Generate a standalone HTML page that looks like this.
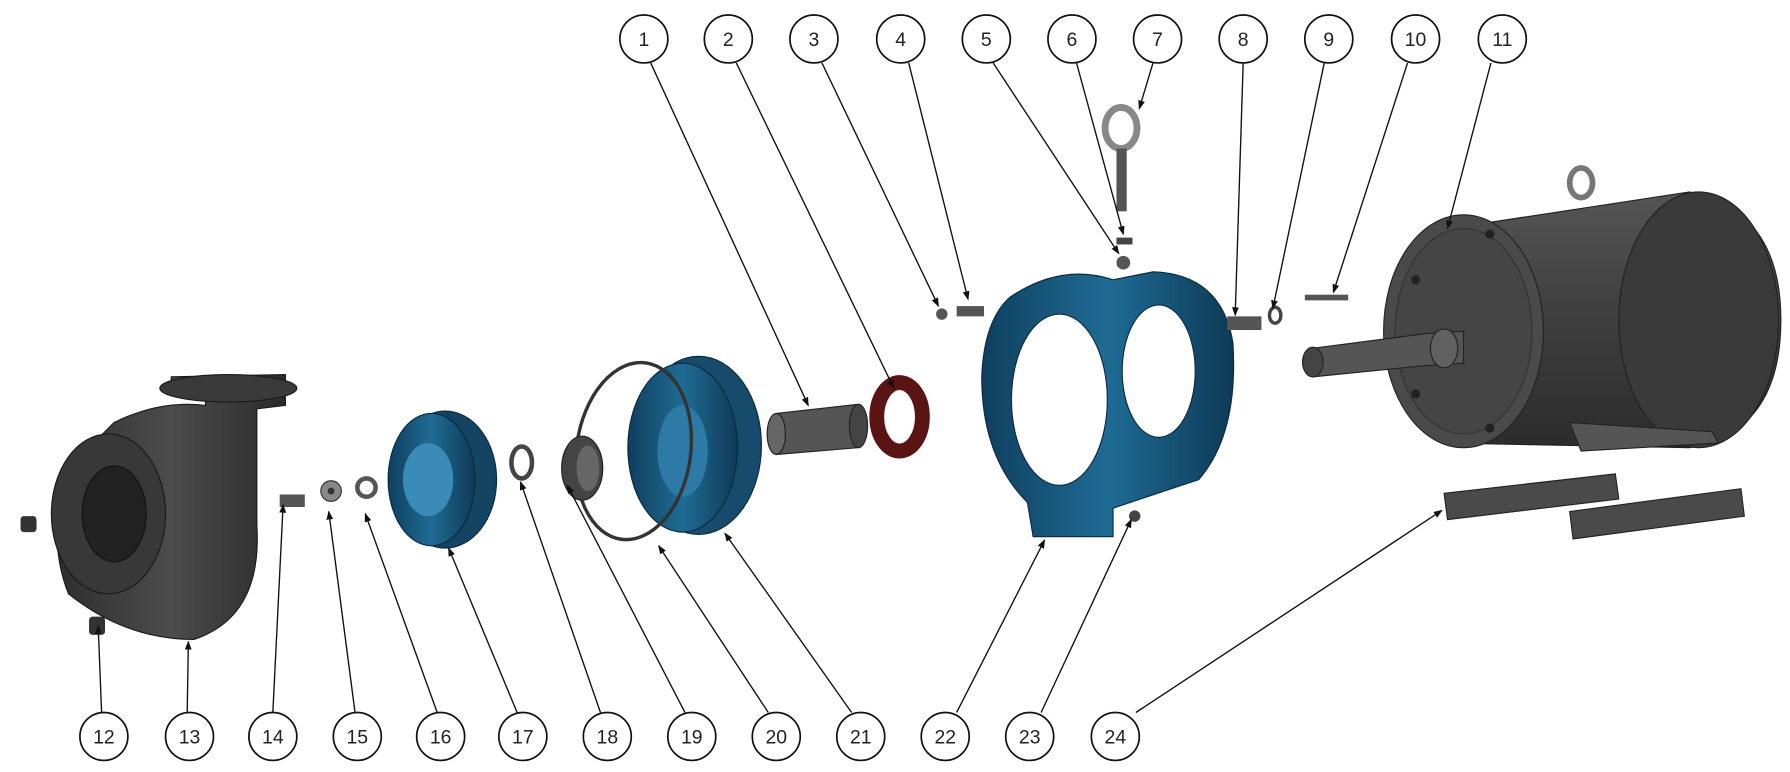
<!DOCTYPE html>
<html><head><meta charset="utf-8"><style>
html,body{margin:0;padding:0;background:#fff;}
svg{display:block;}
text{font-family:"Liberation Sans",sans-serif;font-size:17px;fill:#222;text-anchor:middle;}
</style></head><body>
<svg width="1790" height="772" viewBox="0 0 1568 676" xmlns="http://www.w3.org/2000/svg">
<defs>
<marker id="a" markerWidth="8" markerHeight="8" refX="7" refY="4" orient="auto" markerUnits="userSpaceOnUse"><path d="M0,1 L8,4 L0,7z" fill="#111"/></marker>
<linearGradient id="blue" x1="0" x2="1"><stop offset="0" stop-color="#0f3f5e"/><stop offset=".5" stop-color="#1f6b94"/><stop offset="1" stop-color="#0e3a56"/></linearGradient>
<linearGradient id="dk" x1="0" x2="1"><stop offset="0" stop-color="#2e2e2e"/><stop offset=".5" stop-color="#4c4c4c"/><stop offset="1" stop-color="#2a2a2a"/></linearGradient>
<linearGradient id="mot" x1="0" y1="0" x2="0" y2="1"><stop offset="0" stop-color="#555"/><stop offset=".5" stop-color="#3e3e3e"/><stop offset="1" stop-color="#2c2c2c"/></linearGradient>
</defs>

<!-- Motor -->
<path d="M1270,200 L1480,168 Q1560,185 1560,280 Q1560,378 1480,392 L1270,388 Z" fill="url(#mot)" stroke="#222"/>
<ellipse cx="1488" cy="280" rx="70" ry="112" fill="#3a3a3a" stroke="#222"/>
<ellipse cx="1282" cy="290" rx="70" ry="102" fill="#4a4a4a" stroke="#222"/>
<ellipse cx="1282" cy="290" rx="60" ry="90" fill="#454545" stroke="#333"/>
<circle cx="1240" cy="245" r="4" fill="#222"/><circle cx="1305" cy="205" r="4" fill="#222"/><circle cx="1240" cy="345" r="4" fill="#222"/><circle cx="1305" cy="375" r="4" fill="#222"/>
<ellipse cx="1385" cy="160" rx="10" ry="13" fill="none" stroke="#777" stroke-width="5"/>
<path d="M1375,370 L1500,378 L1505,388 L1385,395 Z" fill="#555" stroke="#222"/>
<path d="M1150,305 L1250,292 L1282,290 L1282,318 L1250,320 L1150,330 Z" fill="#555" stroke="#222"/>
<ellipse cx="1150" cy="317" rx="9" ry="13" fill="#444" stroke="#222"/>
<ellipse cx="1265" cy="305" rx="12" ry="17" fill="#606060" stroke="#222"/>
<!-- bases -->
<path d="M1265,432 L1415,415 L1418,437 L1268,455 Z" fill="#4a4a4a" stroke="#222"/>
<path d="M1375,448 L1525,428 L1528,452 L1378,472 Z" fill="#4a4a4a" stroke="#222"/>

<!-- Bracket -->
<path d="M885,260 Q930,230 975,245 L1010,238 Q1070,240 1080,300 Q1085,380 1050,420 L975,445 L975,470 L905,470 L900,440 Q860,400 860,330 Q862,280 885,260 Z" fill="url(#blue)" stroke="#0a2a40"/>
<ellipse cx="928" cy="350" rx="42" ry="75" fill="#fff" stroke="#0a2a40"/>
<ellipse cx="1015" cy="325" rx="32" ry="58" fill="#fff" stroke="#0a2a40"/>
<circle cx="984" cy="230" r="6" fill="#555"/><rect x="978" y="208" width="14" height="6" fill="#444"/>
<circle cx="994" cy="452" r="5" fill="#444"/>
<!-- eye bolt -->
<ellipse cx="982" cy="112" rx="14" ry="18" fill="none" stroke="#888" stroke-width="6"/>
<rect x="978" y="130" width="9" height="55" fill="#555"/>
<!-- small bolts -->
<circle cx="825" cy="275" r="5" fill="#555"/><rect x="838" y="268" width="24" height="9" fill="#555"/>
<rect x="1075" y="277" width="30" height="12" fill="#555"/><ellipse cx="1117" cy="276" rx="5" ry="7" fill="none" stroke="#444" stroke-width="3"/>
<rect x="1143" y="258" width="38" height="5" fill="#555"/>

<!-- sleeve and gasket -->
<path d="M680,362 L752,354 L752,392 L680,398 Z" fill="#555" stroke="#222"/>
<ellipse cx="680" cy="380" rx="8" ry="18" fill="#666" stroke="#222"/>
<ellipse cx="752" cy="373" rx="8" ry="19" fill="#444" stroke="#222"/>
<ellipse cx="788" cy="365" rx="20" ry="30" fill="none" stroke="#5a1414" stroke-width="13"/>

<!-- seal plate 21 -->
<ellipse cx="612" cy="390" rx="55" ry="78" fill="#164b6c" stroke="#0a2a40"/>
<ellipse cx="598" cy="392" rx="48" ry="74" fill="url(#blue)" stroke="#0a2a40"/>
<ellipse cx="598" cy="395" rx="22" ry="40" fill="#2c7aa5"/>
<!-- o-ring 20 -->
<ellipse cx="555" cy="395" rx="50" ry="78" fill="none" stroke="#333" stroke-width="3" transform="rotate(8 555 395)"/>
<!-- seal 19 -->
<ellipse cx="510" cy="410" rx="18" ry="28" fill="#444" stroke="#222"/>
<ellipse cx="515" cy="410" rx="10" ry="20" fill="#666"/>
<!-- 18 -->
<ellipse cx="457" cy="405" rx="9" ry="14" fill="none" stroke="#444" stroke-width="4"/>
<!-- impeller 17 -->
<ellipse cx="390" cy="420" rx="45" ry="60" fill="#134563" stroke="#0a2a40"/>
<ellipse cx="378" cy="420" rx="38" ry="58" fill="url(#blue)" stroke="#0a2a40"/>
<ellipse cx="375" cy="420" rx="22" ry="32" fill="#3a8bb8"/>
<!-- 14 15 16 -->
<rect x="245" y="433" width="22" height="11" fill="#555"/>
<circle cx="290" cy="430" r="9" fill="#888" stroke="#333"/><circle cx="290" cy="430" r="3" fill="#333"/>
<circle cx="321" cy="427" r="8" fill="none" stroke="#555" stroke-width="4"/>

<!-- volute 13 -->
<path d="M100,370 Q140,350 180,355 L180,340 L150,340 L150,330 L250,328 L250,355 L225,358 L225,460 Q230,540 170,560 Q110,560 60,520 Q40,470 60,410 Z" fill="url(#dk)" stroke="#1a1a1a"/>
<ellipse cx="200" cy="340" rx="60" ry="12" fill="#3a3a3a" stroke="#1a1a1a"/>
<ellipse cx="95" cy="450" rx="50" ry="70" fill="#383838" stroke="#1a1a1a"/>
<ellipse cx="100" cy="450" rx="28" ry="42" fill="#222" stroke="#111"/>
<rect x="18" y="452" width="14" height="14" rx="3" fill="#333"/>
<rect x="78" y="540" width="14" height="16" rx="3" fill="#333"/>

<!-- leaders -->
<g stroke="#111" stroke-width="1.2" fill="none" marker-end="url(#a)">
<line x1="570" y1="55" x2="708" y2="355"/>
<line x1="645" y1="55" x2="783" y2="340"/>
<line x1="720" y1="55" x2="822" y2="268"/>
<line x1="796" y1="55" x2="848" y2="262"/>
<line x1="870" y1="55" x2="980" y2="222"/>
<line x1="943" y1="55" x2="984" y2="205"/>
<line x1="1010" y1="55" x2="998" y2="95"/>
<line x1="1089" y1="55" x2="1082" y2="276"/>
<line x1="1160" y1="55" x2="1115" y2="270"/>
<line x1="1233" y1="55" x2="1168" y2="256"/>
<line x1="1306" y1="55" x2="1268" y2="200"/>
<line x1="89" y1="624" x2="86" y2="548"/>
<line x1="164" y1="624" x2="165" y2="562"/>
<line x1="239" y1="624" x2="248" y2="442"/>
<line x1="311" y1="624" x2="288" y2="448"/>
<line x1="383" y1="624" x2="320" y2="450"/>
<line x1="453" y1="624" x2="393" y2="480"/>
<line x1="526" y1="624" x2="456" y2="422"/>
<line x1="600" y1="624" x2="497" y2="425"/>
<line x1="673" y1="624" x2="577" y2="478"/>
<line x1="746" y1="624" x2="635" y2="467"/>
<line x1="838" y1="624" x2="915" y2="473"/>
<line x1="912" y1="624" x2="991" y2="455"/>
<line x1="995" y1="624" x2="1263" y2="447"/>
</g>

<!-- balloons -->
<g stroke="#111" stroke-width="1.5" fill="#fff">
<circle cx="564" cy="34" r="21"/><circle cx="638" cy="34" r="21"/><circle cx="713" cy="34" r="21"/><circle cx="789" cy="34" r="21"/><circle cx="864" cy="34" r="21"/><circle cx="939" cy="34" r="21"/><circle cx="1014" cy="34" r="21"/><circle cx="1089" cy="34" r="21"/><circle cx="1164" cy="34" r="21"/><circle cx="1240" cy="34" r="21"/><circle cx="1316" cy="34" r="21"/>
<circle cx="91" cy="645" r="21"/><circle cx="166" cy="645" r="21"/><circle cx="239" cy="645" r="21"/><circle cx="313" cy="645" r="21"/><circle cx="386" cy="645" r="21"/><circle cx="458" cy="645" r="21"/><circle cx="532" cy="645" r="21"/><circle cx="606" cy="645" r="21"/><circle cx="680" cy="645" r="21"/><circle cx="754" cy="645" r="21"/><circle cx="828" cy="645" r="21"/><circle cx="902" cy="645" r="21"/><circle cx="977" cy="645" r="21"/>
</g>
<g>
<text x="564" y="40">1</text><text x="638" y="40">2</text><text x="713" y="40">3</text><text x="789" y="40">4</text><text x="864" y="40">5</text><text x="939" y="40">6</text><text x="1014" y="40">7</text><text x="1089" y="40">8</text><text x="1164" y="40">9</text><text x="1240" y="40">10</text><text x="1316" y="40">11</text>
<text x="91" y="651">12</text><text x="166" y="651">13</text><text x="239" y="651">14</text><text x="313" y="651">15</text><text x="386" y="651">16</text><text x="458" y="651">17</text><text x="532" y="651">18</text><text x="606" y="651">19</text><text x="680" y="651">20</text><text x="754" y="651">21</text><text x="828" y="651">22</text><text x="902" y="651">23</text><text x="977" y="651">24</text>
</g>
</svg>
</body></html>
